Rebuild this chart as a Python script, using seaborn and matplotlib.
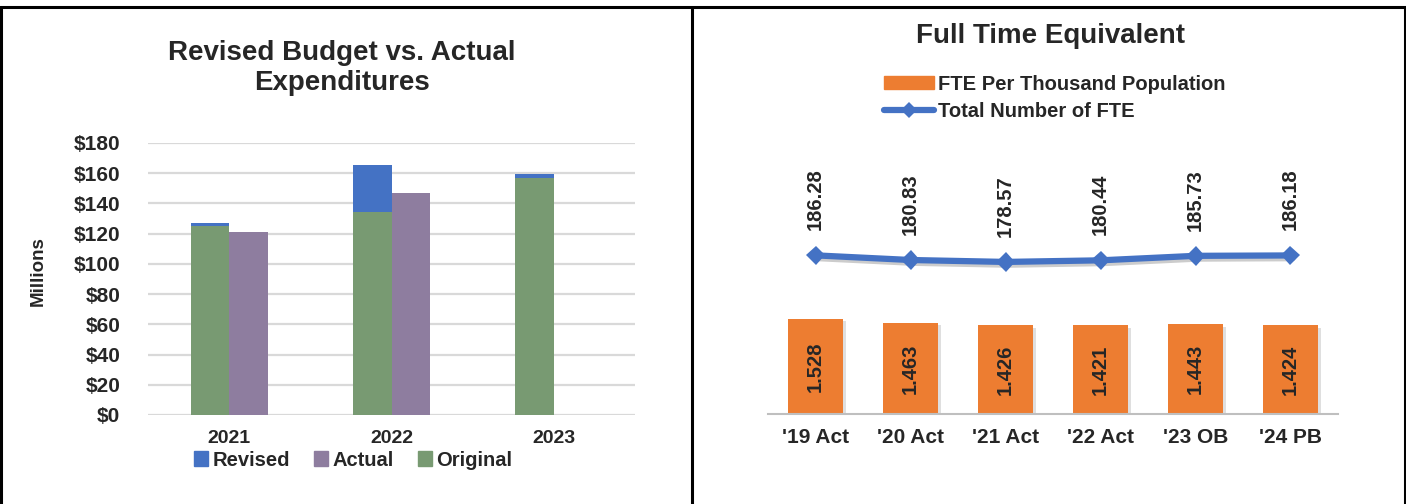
import numpy as np
import pandas as pd
import matplotlib
matplotlib.use("Agg")
import matplotlib.pyplot as plt
import matplotlib.patheffects as pe
from matplotlib.patches import Patch
from matplotlib.lines import Line2D
import seaborn as sns

# ── Data ─────────────────────────────────────────────────
years    = ["2021", "2022", "2023"]
original = [125.3, 134.4, 156.6]
revised  = [127.0, 165.3, 159.5]      # revised budget (top of stack)
actual   = [121.4, 147.0, np.nan]

periods     = ["'19 Act", "'20 Act", "'21 Act", "'22 Act", "'23 OB", "'24 PB"]
fte_per_k   = [1.528, 1.463, 1.426, 1.421, 1.443, 1.424]
total_fte   = [186.28, 180.83, 178.57, 180.44, 185.73, 186.18]

# ── Style ────────────────────────────────────────────────
BLUE   = "#4472C4"
PURPLE = "#8E7D9F"
GREEN  = "#789A72"
ORANGE = "#ED7D31"
GRID   = "#D9D9D9"
AXIS   = "#BFBFBF"

sns.set_style("white")
plt.rcParams["font.family"] = ["Liberation Sans", "DejaVu Sans"]
plt.rcParams["font.weight"] = "bold"

W, H = 1406, 504
fig = plt.figure(figsize=(W / 100, H / 100), dpi=100)

def fx(px):
    return px / W

def fy(py):
    return 1 - py / H

# ── Left: Revised Budget vs. Actual ──────────────────────
ax = fig.add_axes([fx(148), fy(415), fx(635) - fx(148), fy(143) - fy(415)])

top_df = pd.DataFrame({
    "year":  years * 2,
    "slot":  ["left"] * 3 + ["right"] * 3,
    "value": revised + actual,
})
base_df = pd.DataFrame({"year": years, "slot": ["left"] * 3, "value": original})

sns.barplot(data=top_df, x="year", y="value", hue="slot", hue_order=["left", "right"],
            palette={"left": BLUE, "right": PURPLE}, width=0.476, gap=0, dodge=True,
            errorbar=None, saturation=1, legend=False, linewidth=0, ax=ax)
sns.barplot(data=base_df, x="year", y="value", hue="slot", hue_order=["left", "right"],
            palette={"left": GREEN, "right": PURPLE}, width=0.476, gap=0, dodge=True,
            errorbar=None, saturation=1, legend=False, linewidth=0, ax=ax)

ax.set_ylim(0, 180)
ax.set_xlim(-0.5, 2.5)
ax.set_yticks(range(0, 181, 20))
ax.set_yticklabels([f"${v}" for v in range(0, 181, 20)])
ax.yaxis.grid(True, color=GRID, lw=1.6)
ax.set_axisbelow(True)
for s in ax.spines.values():
    s.set_visible(False)
ax.tick_params(axis="y", length=0, pad=20, labelsize=15)
ax.tick_params(axis="x", length=0, pad=11, labelsize=14)
ax.set_xlabel("")
ax.set_ylabel("Millions", fontsize=13.5, fontweight="bold")
ax.yaxis.set_label_coords((47 - 148) / 487, 0.53)

fig.text(fx(342), fy(68), "Revised Budget vs. Actual\nExpenditures",
         ha="center", va="center", fontsize=20, fontweight="bold", linespacing=1.15)

fig.legend(handles=[Patch(color=BLUE), Patch(color=PURPLE), Patch(color=GREEN)],
           labels=["Revised", "Actual", "Original"], ncol=3, frameon=False,
           loc="center", bbox_to_anchor=(fx(353), fy(460)),
           handlelength=0.7, handleheight=0.7, handletextpad=0.2,
           columnspacing=1.2, prop={"size": 14.5, "weight": "bold"})

# ── Right: Full Time Equivalent ──────────────────────────
axr = fig.add_axes([fx(768), fy(414), fx(1338) - fx(768), fy(150) - fy(414)])
sns.barplot(x=periods, y=fte_per_k, color=ORANGE, width=0.585, saturation=1,
            linewidth=0, ax=axr)
for bar in axr.patches:
    bar.set_path_effects([pe.withSimplePatchShadow(offset=(2, -2), shadow_rgbFace="gray", alpha=0.25)])
axr.bar_label(axr.containers[0], labels=[f"{v:.3f}" for v in fte_per_k],
              label_type="center", rotation=90, fontsize=14.5, fontweight="bold")
axr.set_ylim(0, 4.23)

ax2 = axr.twinx()
sns.pointplot(x=periods, y=total_fte, color=BLUE, markers="D", errorbar=None,
              linewidth=4.5, markersize=10, markeredgewidth=0, ax=ax2)
for ln in ax2.lines:
    ln.set_solid_capstyle("round")
    ln.set_path_effects([pe.SimpleLineShadow(offset=(1.5, -2), alpha=0.2), pe.Normal()])
ax2.set_ylim(0, 310)
for i, v in enumerate(total_fte):
    ax2.annotate(f"{v:.2f}", xy=(i, v), xytext=(0, 18), textcoords="offset points",
                 rotation=90, ha="center", va="bottom", fontsize=14.5, fontweight="bold")

axr.set_xlim(-0.5, len(periods) - 0.5)
for a in (axr, ax2):
    for side in ("left", "right", "top"):
        a.spines[side].set_visible(False)
    a.set_yticks([])
    a.set_ylabel("")
ax2.spines["bottom"].set_visible(False)
axr.spines["bottom"].set_color(AXIS)
axr.spines["bottom"].set_linewidth(1.5)
axr.set_xticks(np.arange(len(periods) + 1) - 0.5, minor=True)
axr.tick_params(axis="x", which="major", length=0, pad=10, labelsize=15)
axr.tick_params(axis="x", which="minor", length=5, width=1.2, color=AXIS, direction="out")
axr.set_xlabel("")

fig.text(fx(1051), fy(36), "Full Time Equivalent", ha="center", va="center",
         fontsize=20, fontweight="bold")

fig.legend(handles=[Patch(color=ORANGE),
                    Line2D([], [], color=BLUE, lw=4.5, marker="D", ms=8, mew=0,
                           solid_capstyle="round")],
           labels=["FTE Per Thousand Population", "Total Number of FTE"],
           loc="center left", bbox_to_anchor=(fx(866), fy(98)), frameon=False,
           handlelength=2.5, handleheight=0.6, handletextpad=0.2, labelspacing=0.4,
           prop={"size": 14.5, "weight": "bold"})

# ── Panel frame lines ────────────────────────────────────
frame = dict(color="black", lw=2.2, transform=fig.transFigure, clip_on=False)
fig.add_artist(Line2D([0, 1], [fy(6.5), fy(6.5)], **frame))
fig.add_artist(Line2D([fx(1), fx(1)], [0, fy(6.5)], **frame))
fig.add_artist(Line2D([fx(691.5), fx(691.5)], [0, fy(6.5)], **frame))
fig.add_artist(Line2D([fx(1404.5), fx(1404.5)], [0, fy(6.5)], **frame))

fig.savefig("out.png", dpi=100, facecolor="white")
